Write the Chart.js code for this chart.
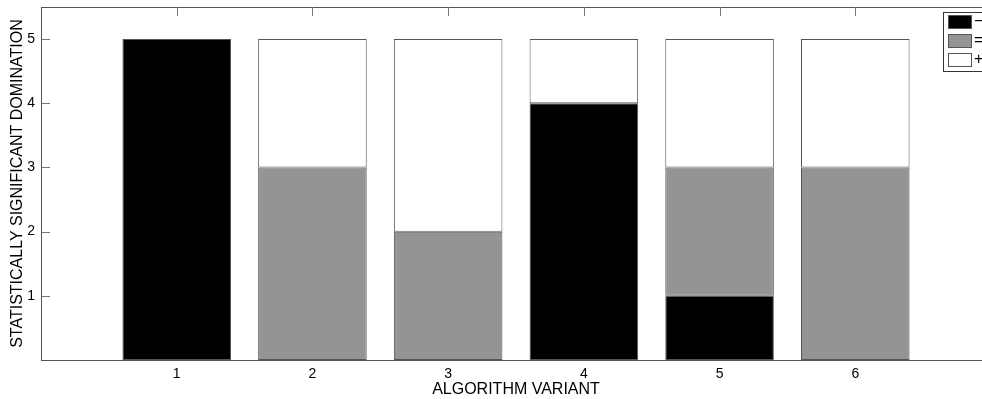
<!DOCTYPE html>
<html>
<head>
<meta charset="utf-8">
<script src="https://cdn.jsdelivr.net/npm/chart.js@4/dist/chart.umd.min.js"></script>
<style>
  html, body { margin: 0; padding: 0; background: #fff; overflow: hidden; }
  #wrap { width: 1000px; height: 399px; }
</style>
</head>
<body>
<div id="wrap"><canvas id="domination-chart"></canvas></div>
<script>
// Stacked domination counts per algorithm variant
const variants = [1, 2, 3, 4, 5, 6];
const worse = [5, 0, 0, 4, 1, 0];   // "−"
const equal = [0, 3, 2, 0, 2, 3];   // "="
const better = [0, 2, 3, 1, 2, 2];  // "+"
const seriesLabels = ['−', '=', '+'];
const seriesColors = ['#000000', '#949494', '#ffffff'];
const yTicks = [1, 2, 3, 4, 5];

const FAMILY = "'Liberation Sans', Arial, sans-serif";
const TICK_FONT = { family: FAMILY, size: 14 };
const TITLE_FONT = { family: FAMILY, size: 16 };

function toPoints(values) {
    return values.map((v, i) => ({ x: variants[i], y: v }));
}

function makeDataset(values, i) {
    return {
        label: seriesLabels[i],
        data: toPoints(values),
        backgroundColor: seriesColors[i],
        borderColor: '#555',
        borderWidth: ctx => (ctx.raw && ctx.raw.y ? 1 : 0),
        borderSkipped: false,
        barPercentage: 0.8,
        categoryPercentage: 1
    };
}

function noPadding(s) {
    s.paddingTop = 0; s.paddingBottom = 0;
    s.paddingLeft = 0; s.paddingRight = 0;
}

// axis box + inward ticks, drawn under the bars like MATLAB
const axisBox = {
    id: 'axisBox',
    beforeDatasetsDraw(chart) {
        const { ctx, chartArea: a, scales } = chart;
        ctx.save();
        ctx.strokeStyle = '#555';
        ctx.lineWidth = 1;
        ctx.strokeRect(a.left + 0.5, a.top + 0.5, a.right - a.left, a.bottom - a.top);
        ctx.strokeStyle = '#777';
        ctx.beginPath();
        yTicks.forEach(v => {
            const y = Math.round(scales.y.getPixelForValue(v)) + 0.5;
            ctx.moveTo(a.left, y);
            ctx.lineTo(a.left + 9, y);
        });
        variants.forEach(v => {
            const x = Math.round(scales.x.getPixelForValue(v)) + 0.5;
            ctx.moveTo(x, a.top);
            ctx.lineTo(x, a.top + 9);
            ctx.moveTo(x, a.bottom);
            ctx.lineTo(x, a.bottom - 9);
        });
        ctx.stroke();
        ctx.restore();
    }
};

// MATLAB style legend box in the top right corner
const boxLegend = {
    id: 'boxLegend',
    afterDraw(chart) {
        const { ctx } = chart;
        const x0 = 943, y0 = 12;
        ctx.save();
        ctx.fillStyle = '#fff';
        ctx.fillRect(x0, y0, 60, 60);
        ctx.strokeStyle = '#333';
        ctx.lineWidth = 1;
        ctx.strokeRect(x0 + 0.5, y0 + 0.5, 60, 59);
        ctx.font = `16px ${FAMILY}`;
        ctx.textBaseline = 'middle';
        chart.data.datasets.forEach((ds, i) => {
            const sy = 15 + i * 19;
            ctx.fillStyle = ds.backgroundColor;
            ctx.fillRect(948, sy, 24, 14);
            ctx.strokeStyle = '#555';
            ctx.strokeRect(948.5, sy + 0.5, 23, 13);
            ctx.fillStyle = '#000';
            ctx.fillText(ds.label, 974, sy + 7);
        });
        ctx.restore();
    }
};

const config = {
    type: 'bar',
    data: {
        datasets: [worse, equal, better].map(makeDataset)
    },
    options: {
        responsive: true,
        maintainAspectRatio: false,
        animation: false,
        layout: { padding: { top: 7, right: 9, left: 0, bottom: 0 } },
        plugins: {
            legend: { display: false },
            tooltip: { enabled: false }
        },
        scales: {
            x: {
                type: 'linear',
                stacked: true,
                offset: false,
                min: 0,
                max: 7,
                afterBuildTicks: s => { s.ticks = variants.map(v => ({ value: v })); },
                afterFit: s => { s.height = 39; noPadding(s); },
                grid: { display: false, drawTicks: false },
                border: { display: false },
                ticks: { font: TICK_FONT, color: '#000', padding: 6, maxRotation: 0 },
                title: {
                    display: true,
                    text: 'ALGORITHM VARIANT',
                    font: TITLE_FONT,
                    color: '#000',
                    padding: { top: 0, bottom: 0 }
                }
            },
            y: {
                stacked: true,
                min: 0,
                max: 5.5,
                afterBuildTicks: s => { s.ticks = yTicks.map(v => ({ value: v })); },
                afterFit: s => { s.width = 41; noPadding(s); },
                grid: { display: false, drawTicks: false },
                border: { display: false },
                ticks: { font: TICK_FONT, color: '#000', padding: 6 },
                title: {
                    display: true,
                    text: 'STATISTICALLY SIGNIFICANT DOMINATION',
                    font: TITLE_FONT,
                    color: '#000',
                    padding: { top: 8, bottom: 0 }
                }
            }
        }
    },
    plugins: [axisBox, boxLegend]
};

new Chart(document.getElementById('domination-chart'), config);
</script>
</body>
</html>
